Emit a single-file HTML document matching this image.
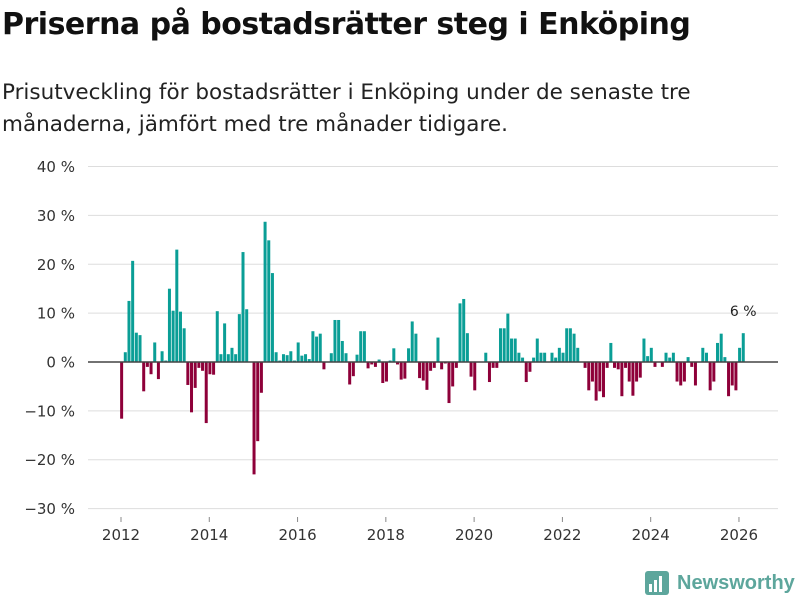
<!DOCTYPE html>
<html><head><meta charset="utf-8">
<style>
body{margin:0;background:#fff;font-family:"Liberation Sans","DejaVu Sans",sans-serif;}
#wrap{position:relative;width:800px;height:600px;overflow:hidden;}
h1{position:absolute;left:2px;top:7px;margin:0;font-size:30px;font-weight:bold;color:#111;font-family:"DejaVu Sans","Liberation Sans",sans-serif;letter-spacing:-0.5px;}
.sub{position:absolute;left:2px;top:77px;margin:0;font-size:21.5px;line-height:32px;color:#222;font-family:"DejaVu Sans","Liberation Sans",sans-serif;letter-spacing:0px;}
svg text{font-family:"DejaVu Sans","Liberation Sans",sans-serif;}
</style></head><body>
<div id="wrap">
<h1>Priserna på bostadsrätter steg i Enköping</h1>
<p class="sub">Prisutveckling för bostadsrätter i Enköping under de senaste tre<br>månaderna, jämfört med tre månader tidigare.</p>
<svg id="chart" width="800" height="600" style="position:absolute;left:0;top:0"></svg>
</div>
<script>
const yTicks=[40,30,20,10,0,-10,-20,-30];
const yTickLabels=["40 %","30 %","20 %","10 %","0 %","−10 %","−20 %","−30 %"];
const xTicks=[2012,2014,2016,2018,2020,2022,2024,2026];
const startYear=2012;
const values=[
-11.6,2,12.5,20.7,6,5.5,-6,-1,-2.5,4,-3.5,2.2,
0.3,15,10.5,23,10.3,6.9,-4.7,-10.3,-5.3,-1.2,-1.8,-12.5,
-2.5,-2.6,10.4,1.6,7.9,1.6,2.9,1.6,9.8,22.5,10.8,0,
-23,-16.2,-6.3,28.7,24.9,18.2,2,0.3,1.6,1.4,2.2,0.3,
4,1.3,1.6,0.6,6.3,5.2,5.8,-1.5,0,1.8,8.6,8.6,
4.3,1.8,-4.6,-2.9,1.5,6.3,6.3,-1.3,-0.5,-1,0.5,-4.3,
-4,0.3,2.8,-0.5,-3.6,-3.4,2.8,8.3,5.8,-3.3,-3.8,-5.7,
-1.8,-1.2,5,-1.5,-0.3,-8.4,-5,-1.2,12,12.9,5.9,-3,
-5.8,0,0,1.9,-4.1,-1.2,-1.2,6.9,6.9,9.9,4.8,4.8,
1.9,0.9,-4.1,-2,0.9,4.8,1.9,1.9,0,1.9,0.9,2.9,
1.9,6.9,6.9,5.8,2.9,0,-1.2,-5.8,-4,-7.9,-6,-7.2,
-1.2,3.9,-1.2,-1.5,-7,-1.2,-4,-6.9,-4,-3.2,4.8,1.2,
2.9,-1,0,-1,1.9,0.9,1.9,-4,-4.8,-4,1,-1,
-4.8,0,2.9,1.9,-5.8,-4,3.9,5.8,1,-7,-4.8,-5.8,
2.9,5.9];
const lastLabel="6 %";
const svg=document.getElementById('chart');
const NS='http://www.w3.org/2000/svg';
const y=v=>362-v*4.886;
const x=t=>121+44.14*(t-startYear);
function mk(tag,attrs,parent){const e=document.createElementNS(NS,tag);for(const k in attrs)e.setAttribute(k,attrs[k]);(parent||svg).appendChild(e);return e;}
yTicks.forEach((t,i)=>{
  if(t!==0){const g=mk('line',{x1:88,x2:778,y1:y(t),y2:y(t),stroke:'#dddddd','stroke-width':1});
  
  }
  const tx=mk('text',{x:75,y:y(t)+5.5,'text-anchor':'end','font-size':15,fill:'#333'});
  tx.textContent=yTickLabels[i];
  
  
});
xTicks.forEach(t=>{
  const l=mk('line',{x1:x(t),x2:x(t),y1:522,y2:517,stroke:'#888','stroke-width':1});
  
  
  const tx=mk('text',{x:x(t),y:540,'text-anchor':'middle','font-size':15,fill:'#333'});
  tx.textContent=t;
  
  
});
const bw=3.0;
values.forEach((v,i)=>{
  const cx=x(startYear+(i+0.17)/12);
  const r=mk('rect',{x:cx-bw/2,y:Math.min(y(v),y(0)),width:bw,height:Math.abs(y(v)-y(0)),fill:v>=0?'#0a9e96':'#8e0039'});
  
  
});
const zl=mk('line',{x1:88,x2:778,y1:y(0),y2:y(0),stroke:'#444','stroke-width':1.5});


const li=values.length-1;
const lt=mk('text',{x:x(startYear+(li+0.17)/12),y:y(values[li])-17,'text-anchor':'middle','font-size':14,fill:'#222'});
lt.textContent=lastLabel;


const lg=mk('g',{});


mk('rect',{x:645,y:571,width:24,height:24,rx:3,fill:'#5da69c'},lg);
mk('rect',{x:649,y:584,width:3,height:8,fill:'#fff'},lg);
mk('rect',{x:654,y:580,width:3,height:12,fill:'#fff'},lg);
mk('rect',{x:659,y:576,width:3,height:16,fill:'#fff'},lg);
const lgt=mk('text',{x:677,y:589,'font-size':20,'font-weight':'bold',fill:'#5da69c',style:'font-family:"Liberation Sans",sans-serif'},lg);
lgt.textContent='Newsworthy';
</script>
</body></html>
